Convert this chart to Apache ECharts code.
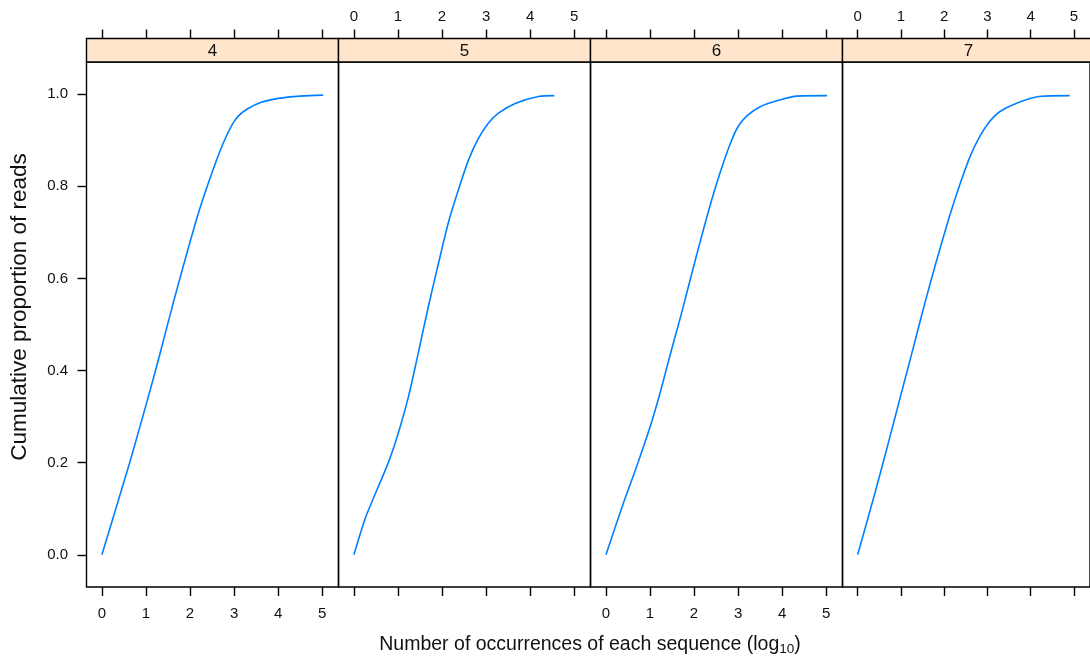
<!DOCTYPE html>
<html>
<head>
<meta charset="utf-8">
<script src="https://cdn.jsdelivr.net/npm/echarts@6/dist/echarts.min.js"></script>
<style>
  html, body { margin: 0; padding: 0; background: #fff; }
  #chart { width: 1090px; height: 659px; }
</style>
</head>
<body>
<div id="chart"></div>
<script>
  // panel strip labels
  var panels = ['4', '5', '6', '7'];
  var xTicks = [0, 1, 2, 3, 4, 5];
  var yTicks = [0, 0.2, 0.4, 0.6, 0.8, 1.0];

  // log10 occurrences / cumulative proportion, one pair per panel
  var x4 = [0, 0.30, 0.63, 1.00, 1.30, 1.60, 1.90, 2.20, 2.50, 2.75, 2.95, 3.10, 3.30, 3.60, 4.00, 4.50, 5.02];
  var y4 = [0, 0.095, 0.20, 0.325, 0.43, 0.54, 0.645, 0.745, 0.83, 0.893, 0.933, 0.953, 0.968, 0.982, 0.991, 0.996, 0.998];

  var x5 = [0, 0.25, 0.40, 0.78, 1.01, 1.24, 1.46, 1.69, 1.92, 2.14, 2.37, 2.60, 2.82, 3.05, 3.28, 3.66, 4.19, 4.55];
  var y5 = [0, 0.077, 0.113, 0.20, 0.265, 0.344, 0.438, 0.539, 0.633, 0.72, 0.792, 0.857, 0.903, 0.937, 0.959, 0.98, 0.995, 0.997];

  var x6 = [0, 0.40, 0.71, 1.01, 1.24, 1.46, 1.69, 1.92, 2.14, 2.37, 2.60, 2.82, 3.00, 3.20, 3.50, 3.96, 4.34, 5.02];
  var y6 = [0, 0.113, 0.195, 0.28, 0.355, 0.435, 0.515, 0.60, 0.68, 0.76, 0.832, 0.892, 0.93, 0.953, 0.973, 0.988, 0.996, 0.997];

  var x7 = [0, 0.40, 0.71, 1.01, 1.24, 1.46, 1.69, 1.92, 2.14, 2.37, 2.60, 2.82, 3.05, 3.28, 3.66, 4.19, 4.90];
  var y7 = [0, 0.134, 0.243, 0.351, 0.433, 0.513, 0.594, 0.67, 0.74, 0.806, 0.865, 0.908, 0.941, 0.962, 0.98, 0.995, 0.997];

  var xs = [x4, x5, x6, x7];
  var ys = [y4, y5, y6, y7];

  var FONT = '"Liberation Sans", Arial, sans-serif';
  var panelLeft = 86.5, panelW = 252, panelTop = 62, panelH = 525;
  var stripTop = 38.5;

  var grids = [], xAxes = [], yAxes = [], series = [], graphics = [];

  panels.forEach(function (p, i) {
    var left = panelLeft + panelW * i;
    grids.push({
      left: left, top: panelTop, width: panelW, height: panelH,
      show: true, borderColor: '#000', borderWidth: 1.4, backgroundColor: 'transparent'
    });

    // bottom axis
    xAxes.push({
      type: 'value', gridIndex: i, position: 'bottom', min: -0.35, max: 5.37,
      axisLine: { show: false, onZero: false },
      axisTick: { show: true, inside: false, length: 9, customValues: xTicks, lineStyle: { color: '#000', width: 1.4 } },
      axisLabel: { show: i % 2 === 0, customValues: xTicks, margin: 19, color: '#111', fontSize: 15, fontFamily: FONT },
      splitLine: { show: false }
    });
    // top axis (above the strip)
    xAxes.push({
      type: 'value', gridIndex: i, position: 'top', offset: panelTop - stripTop, min: -0.35, max: 5.37,
      axisLine: { show: false, onZero: false },
      axisTick: { show: true, inside: false, length: 9, customValues: xTicks, lineStyle: { color: '#000', width: 1.4 } },
      axisLabel: { show: i % 2 === 1, customValues: xTicks, margin: 14, color: '#111', fontSize: 15, fontFamily: FONT },
      splitLine: { show: false }
    });

    yAxes.push({
      type: 'value', gridIndex: i, min: -0.07, max: 1.07,
      axisLine: { show: false, onZero: false },
      axisTick: { show: i === 0, inside: false, length: 9, customValues: yTicks, lineStyle: { color: '#000', width: 1.4 } },
      axisLabel: {
        show: i === 0, customValues: yTicks, margin: 18.5, color: '#111', fontSize: 15, fontFamily: FONT,
        formatter: function (v) { return v.toFixed(1); }
      },
      splitLine: { show: false }
    });

    series.push({
      type: 'line', xAxisIndex: 2 * i, yAxisIndex: i,
      data: xs[i].map(function (x, k) { return [x, ys[i][k]]; }),
      showSymbol: false, smooth: 0.3,
      lineStyle: { color: '#0080FF', width: 1.6 },
      silent: true
    });

    graphics.push({
      type: 'rect', shape: { x: left, y: stripTop, width: panelW, height: panelTop - stripTop },
      style: { fill: '#FFE5CC', stroke: '#000', lineWidth: 1.4 }
    });
    graphics.push({
      type: 'text', x: left + panelW / 2, y: stripTop + (panelTop - stripTop) / 2 + 1,
      style: { text: p, font: '17px ' + FONT, fill: '#111', align: 'center', verticalAlign: 'middle' }
    });
  });

  graphics.push({
    type: 'text', x: 20, y: 307, rotation: Math.PI / 2,
    style: { text: 'Cumulative proportion of reads', font: '22.5px ' + FONT, fill: '#111', align: 'center', verticalAlign: 'middle' }
  });
  graphics.push({
    type: 'text', x: 590, y: 645,
    style: {
      text: 'Number of occurrences of each sequence (log{sub|10})',
      font: '19.5px ' + FONT, fill: '#111', align: 'center', verticalAlign: 'middle',
      rich: { sub: { fontSize: 13.5, fontFamily: FONT, fill: '#111', padding: [9, 0, 0, 0] } }
    }
  });

  var chart = echarts.init(document.getElementById('chart'), null, { renderer: 'canvas' });
  chart.setOption({
    animation: false,
    backgroundColor: '#fff',
    grid: grids,
    xAxis: xAxes,
    yAxis: yAxes,
    series: series,
    graphic: graphics
  });
</script>
</body>
</html>
